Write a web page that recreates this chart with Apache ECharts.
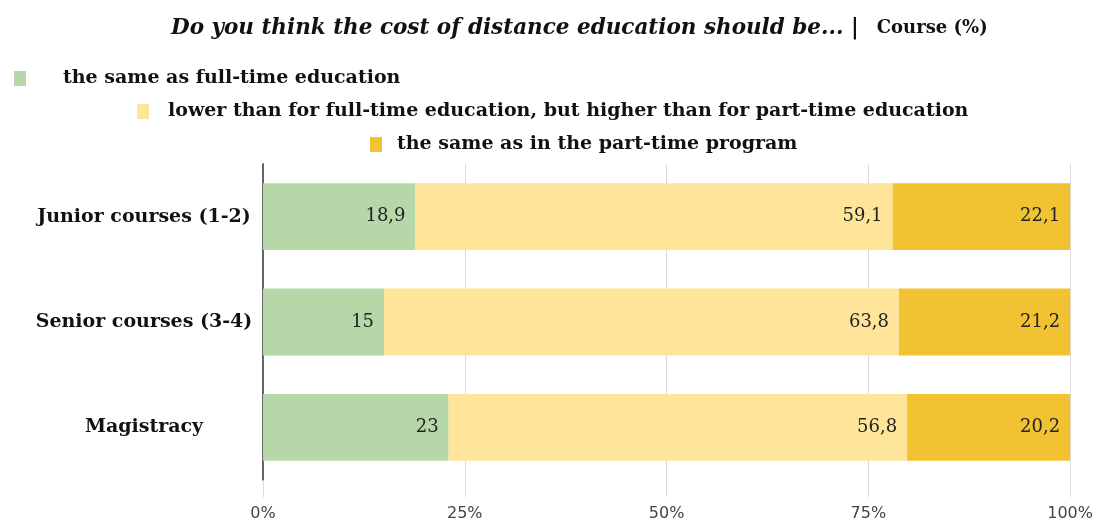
<!DOCTYPE html>
<html>
<head>
<meta charset="utf-8">
<title>Cost of distance education</title>
<script src="https://cdn.jsdelivr.net/npm/echarts@6/dist/echarts.min.js"></script>
<style>
  html, body { margin: 0; padding: 0; background: #ffffff; }
  #chart { width: 1096px; height: 524px; }
</style>
</head>
<body>
<div id="chart"></div>
<script>
// Survey groups (top to bottom)
const categories = ['Junior courses (1-2)', 'Senior courses (3-4)', 'Magistracy'];

// Answer options
const seriesNames = [
  'the same as full-time education',
  'lower than for full-time education, but higher than for part-time education',
  'the same as in the part-time program'
];

// Shares, % of respondents in each group
const sameAsFullTime = [18.9, 15, 23];
const lowerThanFullTime = [59.1, 63.8, 56.8];
const sameAsPartTime = [22.1, 21.2, 20.2];

// Percent axis ticks
const tickValues = [0, 25, 50, 75, 100];
const tickLabels = ['0%', '25%', '50%', '75%', '100%'];

const colors = ['#b6d7a8', '#ffe599', '#f1c232'];
const serif = '"DejaVu Serif", "Liberation Serif", serif';

const seriesValues = [sameAsFullTime, lowerThanFullTime, sameAsPartTime];

const chart = echarts.init(document.getElementById('chart'), null, { renderer: 'canvas' });

// Staggered legend rows: icon x, row top, gap between icon and text
const legendPlacement = [
  { left: 14, top: 69, gap: 32 },
  { left: 137, top: 102, gap: 14 },
  { left: 370, top: 135, gap: 10 }
];

chart.setOption({
  animation: false,
  backgroundColor: '#ffffff',
  title: {
    text: '{a|Do you think the cost of distance education should be... |}{b|Course (%)}',
    left: 166,
    top: 12,
    textStyle: {
      rich: {
        a: { fontFamily: serif, fontStyle: 'italic', fontWeight: 'bold', fontSize: 21.5, color: '#111111' },
        b: { fontFamily: serif, fontWeight: 'bold', fontSize: 18, color: '#111111', padding: [0, 0, 0, 18] }
      }
    }
  },
  legend: legendPlacement.map((p, i) => ({
    data: [seriesNames[i]],
    left: p.left,
    top: p.top,
    padding: 0,
    itemWidth: 12,
    itemHeight: 15,
    icon: 'rect',
    selectedMode: false,
    textStyle: {
      fontFamily: serif,
      fontWeight: 'bold',
      fontSize: 19,
      color: '#111111',
      padding: [0, 0, 0, p.gap]
    }
  })),
  grid: { left: 263, right: 25, top: 164, bottom: 44, containLabel: false },
  xAxis: {
    type: 'value',
    min: 0,
    max: 100,
    interval: 25,
    axisLine: { show: false },
    axisTick: { show: true, length: 17, lineStyle: { color: '#d9d9d9' } },
    splitLine: { show: true, lineStyle: { color: '#d9d9d9', width: 1 } },
    axisLabel: {
      margin: 26,
      fontFamily: '"DejaVu Sans", "Open Sans", sans-serif',
      fontSize: 16,
      color: '#444444',
      formatter: v => tickLabels[tickValues.indexOf(v)]
    }
  },
  yAxis: {
    type: 'category',
    inverse: true,
    data: categories,
    axisLine: { show: true, lineStyle: { color: '#666666', width: 2 } },
    axisTick: { show: false },
    axisLabel: {
      margin: 119,
      align: 'center',
      fontFamily: serif,
      fontWeight: 'bold',
      fontSize: 19,
      color: '#111111'
    }
  },
  series: seriesNames.map((name, i) => ({
    name: name,
    type: 'bar',
    stack: 'total',
    barCategoryGap: '36.5%',
    itemStyle: { color: colors[i] },
    label: {
      show: true,
      position: 'insideRight',
      distance: 10,
      fontFamily: serif,
      fontSize: 18,
      color: '#222222',
      formatter: p => String(p.value).replace('.', ',')
    },
    data: seriesValues[i]
  }))
});
</script>
</body>
</html>
